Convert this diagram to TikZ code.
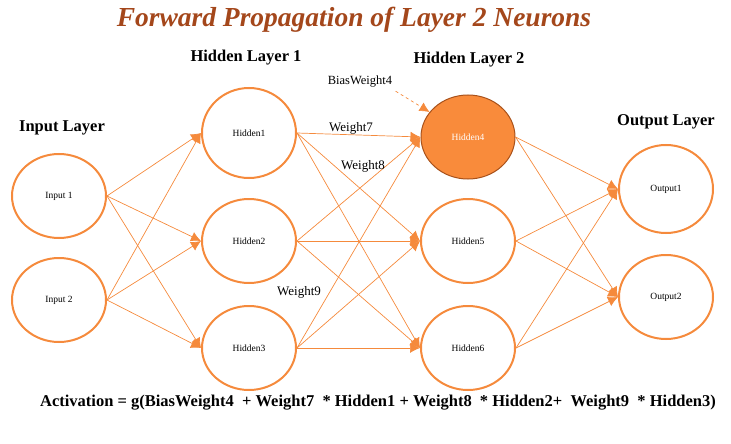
\documentclass[tikz,border=0pt]{standalone}
\usepackage{fontspec}
\setmainfont{Liberation Serif}
\usepackage{tikz}
\usetikzlibrary{arrows.meta,positioning,shapes.geometric}
\definecolor{neuron}{HTML}{F58A3C}
\definecolor{neuronfill}{HTML}{F98B3B}
\definecolor{neurondark}{HTML}{A9521B}
\definecolor{titlebrown}{HTML}{A4471B}

\begin{document}
\begin{tikzpicture}[x=1pt,y=-1pt,
  unit/.style={ellipse,draw=neuron,line width=2pt,minimum width=94pt,minimum height=84pt,inner sep=0pt,font=\fontsize{9.5}{11}\selectfont},
  active/.style={unit,fill=neuronfill,draw=neurondark,line width=1pt,text=white},
  layer/.style={font=\fontsize{16.5}{19}\selectfont\bfseries},
  wlbl/.style={font=\fontsize{13}{15}\selectfont},
  every edge/.style={draw=neuron,line width=0.7pt,-{Latex[length=10pt,width=10pt]}}]
\useasboundingbox (0,0) rectangle (731,444);
\node[font=\fontsize{27.5}{32}\selectfont\bfseries\itshape,text=titlebrown] (title) at (354,20) {Forward Propagation of Layer 2 Neurons};
\node[layer] (lin) at (62,128) {Input Layer};
\node[layer] (lh1) at (246,58) {Hidden Layer 1};
\node[layer] (lh2) at (469,60) {Hidden Layer 2};
\node[layer] (lout) at (666,122) {Output Layer};
\node[unit] (in1) at (59,196) {Input 1};
\node[unit] (in2) at (59,300) {Input 2};
\node[unit,minimum height=90pt] (h1) at (249,133) {Hidden1};
\node[unit] (h2) at (249,241) {Hidden2};
\node[unit] (h3) at (249,348) {Hidden3};
\node[active] (h4) at (468,137) {Hidden4};
\node[unit] (h5) at (468,241) {Hidden5};
\node[unit] (h6) at (468,348) {Hidden6};
\node[unit,minimum height=88pt] (out1) at (666,189) {Output1};
\node[unit] (out2) at (666,297) {Output2};
\draw (in1.east) edge (h1.west) edge (h2.west) edge (h3.west);
\draw (in2.east) edge (h1.west) edge (h2.west) edge (h3.west);
\draw (h1.east) edge (h4.west) edge (h5.west) edge (h6.west);
\draw (h2.east) edge (h4.west) edge (h5.west) edge (h6.west);
\draw (h3.east) edge (h4.west) edge (h5.west) edge (h6.west);
\draw (h4.east) edge (out1.west) edge (out2.west);
\draw (h5.east) edge (out1.west) edge (out2.west);
\draw (h6.east) edge (out1.west) edge (out2.west);
\node[wlbl] (w7) at (351,128) {Weight7};
\node[wlbl] (w8) at (363,166) {Weight8};
\node[wlbl] (w9) at (299,292) {Weight9};
\node[font=\fontsize{12.5}{14}\selectfont] (bias) at (360,82) {BiasWeight4};
\draw[draw=neuron,line width=0.7pt,dashed,-{Latex[length=10pt,width=10pt]}] (bias.south east) -- (h4.147);
\node[font=\fontsize{16.5}{19}\selectfont\bfseries] (act) at (378,403) {Activation = g(BiasWeight4 \ + Weight7 \ * Hidden1 + Weight8 \ * Hidden2+ \ Weight9 \ * Hidden3)};
\end{tikzpicture}
\end{document}
